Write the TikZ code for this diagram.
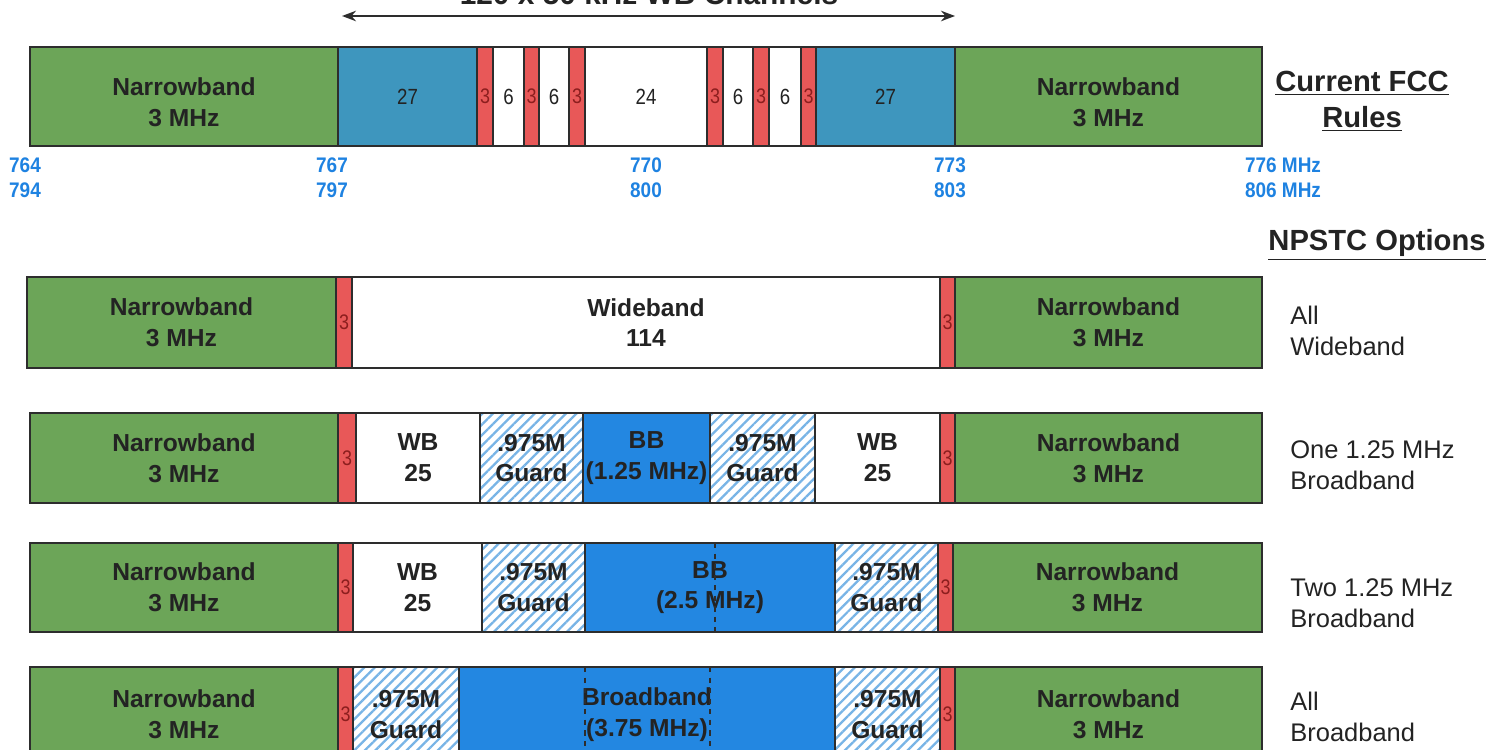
\documentclass[tikz,border=0pt]{standalone}
\usepackage{fontspec}
\usepackage{graphicx}
\setmainfont{Liberation Sans}
\usetikzlibrary{patterns.meta,arrows.meta}
\definecolor{nbgreen}{RGB}{108,165,88}
\definecolor{fccblue}{RGB}{62,150,190}
\definecolor{bbblue}{RGB}{35,135,225}
\definecolor{gred}{RGB}{232,88,88}
\definecolor{hatchblue}{RGB}{120,180,230}
\definecolor{freqblue}{RGB}{30,130,225}
\definecolor{outline}{RGB}{45,45,45}
\definecolor{txt}{RGB}{35,35,35}
\definecolor{redtxt}{RGB}{140,30,30}
\newcommand\nar[2][.85]{\scalebox{#1}[1]{#2}}
\newcommand\band[7]{\node[cell,#6,minimum width={(#3-#2)*0.02cm},minimum height={(#5-#4)*0.02cm},anchor=north west] (#1) at (#2,#4) {#7};}
\tikzset{
  cell/.style={draw=outline,line width=0.9pt,inner sep=0pt,outer sep=0pt,align=center,text=txt,
    font=\bfseries\fontsize{14}{17.5}\selectfont},
  celltext/.style={inner sep=0pt,align=center,text=txt,font=\bfseries\fontsize{14}{17.5}\selectfont},
  nb/.style={fill=nbgreen},
  fcc/.style={fill=fccblue,font=\fontsize{12.5}{14}\selectfont},
  wsm/.style={fill=white,font=\fontsize{12.5}{14}\selectfont},
  grd/.style={fill=gred,text=redtxt,font=\fontsize{12}{14}\selectfont},
  wb/.style={fill=white},
  bb/.style={fill=bbblue},
  hatch/.style={preaction={fill=white},pattern={Lines[angle=45,distance=4.2pt,line width=1.3pt]},pattern color=hatchblue},
  freq/.style={text=freqblue,font=\bfseries\fontsize{12}{14}\selectfont,inner sep=0pt},
  side/.style={anchor=west,align=left,text=txt,font=\fontsize{14.5}{17.5}\selectfont,inner sep=0pt},
  head/.style={align=center,text=txt,font=\bfseries\fontsize{16.6}{20.5}\selectfont,inner sep=0pt},
  divider/.style={dashed,line width=0.6pt,draw=outline}
}
\begin{document}
\begin{tikzpicture}[x=0.02cm,y=-0.02cm]
\useasboundingbox (0,0) rectangle (1504,750);
% title and arrow
\node[anchor=base,text=txt,font=\bfseries\fontsize{17}{20}\selectfont,inner sep=0pt] (title) at (649,5) {120 x 50 kHz WB Channels};
\coordinate (aL) at (342,16);
\coordinate (aR) at (955,16);
\draw[{Stealth[length=8pt,width=6pt]}-{Stealth[length=8pt,width=6pt]},line width=1pt,draw=outline] (aL) -- (aR);
% Row 1: current FCC rules
\band{a1}{30}{338}{47}{146}{nb}{}
\node[celltext] (a1t) at ([yshift=-3.4pt]a1.center) {Narrowband\\3 MHz};
\band{a2}{338}{477}{47}{146}{fcc}{\nar{27}}
\band{a3}{477}{493}{47}{146}{grd}{\nar{3}}
\band{a4}{493}{524}{47}{146}{wsm}{\nar{6}}
\band{a5}{524}{539}{47}{146}{grd}{\nar{3}}
\band{a6}{539}{569}{47}{146}{wsm}{\nar{6}}
\band{a7}{569}{585}{47}{146}{grd}{\nar{3}}
\band{a8}{585}{707}{47}{146}{wsm}{\nar{24}}
\band{a9}{707}{723}{47}{146}{grd}{\nar{3}}
\band{a10}{723}{753}{47}{146}{wsm}{\nar{6}}
\band{a11}{753}{769}{47}{146}{grd}{\nar{3}}
\band{a12}{769}{801}{47}{146}{wsm}{\nar{6}}
\band{a13}{801}{816}{47}{146}{grd}{\nar{3}}
\band{a14}{816}{955}{47}{146}{fcc}{\nar{27}}
\band{a15}{955}{1262}{47}{146}{nb}{}
\node[celltext] (a15t) at ([yshift=-3.4pt]a15.center) {Narrowband\\3 MHz};
\node[head] (fcchead) at (1362,101) {\underline{Current FCC}\\\underline{Rules}};
% frequency labels
\node[freq] (f1) at (25,165) {\nar[.9]{764}};
\node[freq] (f2) at (25,190) {\nar[.9]{794}};
\node[freq] (f3) at (332,165) {\nar[.9]{767}};
\node[freq] (f4) at (332,190) {\nar[.9]{797}};
\node[freq] (f5) at (646,165) {\nar[.9]{770}};
\node[freq] (f6) at (646,190) {\nar[.9]{800}};
\node[freq] (f7) at (950,165) {\nar[.9]{773}};
\node[freq] (f8) at (950,190) {\nar[.9]{803}};
\node[freq] (f9) at (1283,165) {\nar[.9]{776 MHz}};
\node[freq] (f10) at (1283,190) {\nar[.9]{806 MHz}};
\node[head] (npstc) at (1377,245) {\underline{NPSTC Options}};
% Row 2: all wideband
\band{b1}{27}{336}{277}{368}{nb}{Narrowband\\3 MHz}
\band{b2}{336}{352}{277}{368}{grd}{\nar{3}}
\band{b3}{352}{940}{277}{368}{wb}{Wideband\\114}
\band{b4}{940}{955}{277}{368}{grd}{\nar{3}}
\band{b5}{955}{1262}{277}{368}{nb}{Narrowband\\3 MHz}
\node[side] (sb) at (1290,331) {All\\Wideband};
% Row 3: one 1.25 MHz broadband
\band{c1}{30}{338}{413}{503}{nb}{Narrowband\\3 MHz}
\band{c2}{338}{356}{413}{503}{grd}{\nar{3}}
\band{c3}{356}{480}{413}{503}{wb}{WB\\25}
\band{c4}{480}{583}{413}{503}{hatch}{.975M\\Guard}
\band{c5}{583}{710}{413}{503}{bb}{BB\\(1.25 MHz)}
\band{c6}{710}{815}{413}{503}{hatch}{.975M\\Guard}
\band{c7}{815}{940}{413}{503}{wb}{WB\\25}
\band{c8}{940}{955}{413}{503}{grd}{\nar{3}}
\band{c9}{955}{1262}{413}{503}{nb}{Narrowband\\3 MHz}
\node[side] (sc) at (1290,465) {One 1.25 MHz\\Broadband};
% Row 4: two 1.25 MHz broadband
\band{d1}{30}{338}{543}{632}{nb}{Narrowband\\3 MHz}
\band{d2}{338}{353}{543}{632}{grd}{\nar{3}}
\band{d3}{353}{482}{543}{632}{wb}{WB\\25}
\band{d4}{482}{585}{543}{632}{hatch}{.975M\\Guard}
\band{d5}{585}{835}{543}{632}{bb}{BB\\(2.5 MHz)}
\band{d6}{835}{938}{543}{632}{hatch}{.975M\\Guard}
\band{d7}{938}{953}{543}{632}{grd}{\nar{3}}
\band{d8}{953}{1262}{543}{632}{nb}{Narrowband\\3 MHz}
\draw[divider] (715,543) -- (715,632);
\node[side] (sd) at (1290,603) {Two 1.25 MHz\\Broadband};
% Row 5: all broadband
\band{e1}{30}{338}{667}{762}{nb}{Narrowband\\3 MHz}
\band{e2}{338}{353}{667}{762}{grd}{\nar{3}}
\band{e3}{353}{459}{667}{762}{hatch}{.975M\\Guard}
\band{e4}{459}{835}{667}{762}{bb}{Broadband\\(3.75 MHz)}
\band{e5}{835}{940}{667}{762}{hatch}{.975M\\Guard}
\band{e6}{940}{955}{667}{762}{grd}{\nar{3}}
\band{e7}{955}{1262}{667}{762}{nb}{Narrowband\\3 MHz}
\draw[divider] (585,667) -- (585,762);
\draw[divider] (710,667) -- (710,762);
\node[side] (se) at (1290,717) {All\\Broadband};
\end{tikzpicture}
\end{document}
